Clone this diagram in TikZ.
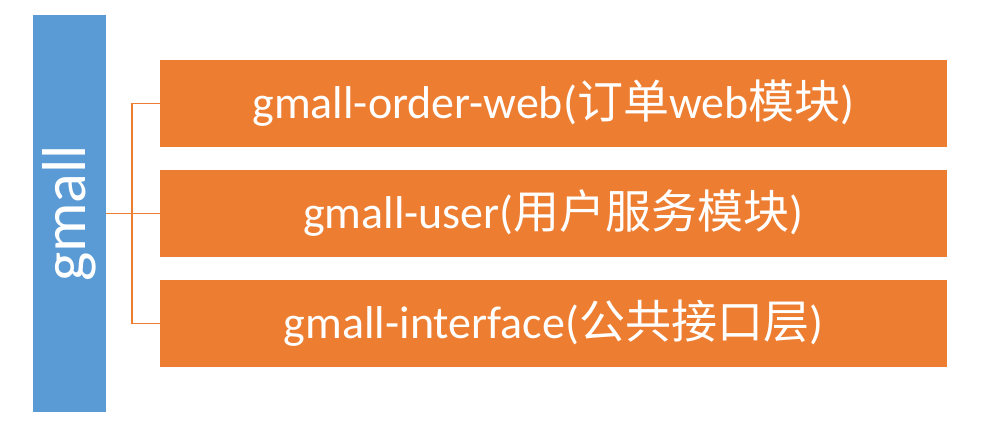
\documentclass[tikz,border=0pt]{standalone}
\usepackage{fontspec}
\setmainfont{Carlito}
\newfontfamily\cjk{Noto Sans CJK SC}
\definecolor{og}{HTML}{ED7D31}
\definecolor{bl}{HTML}{5B9BD5}
\begin{document}
\begin{tikzpicture}[x=1pt,y=1pt,
  obox/.style={fill=og,draw=none,minimum width=787pt,minimum height=87pt,inner sep=0pt,text=white,font=\fontsize{46}{52}\selectfont},
  conn/.style={draw=og,line width=1.2pt}]
\useasboundingbox (0,0) rectangle (1008,428);
\node[fill=bl,minimum width=73pt,minimum height=397pt,inner sep=0pt,text=white,font=\fontsize{62}{68}\selectfont] (g) at (69.5,214.5) {\rotatebox{90}{gmall}};
\node[obox] (a) at (553.5,324.5) {gmall-order-web({\cjk 订单}web{\cjk 模块})};
\node[obox] (b) at (553.5,214.5) {gmall-user({\cjk 用户服务模块})};
\node[obox] (c) at (553.5,104.5) {gmall-interface({\cjk 公共接口层})};
\coordinate (j) at (132,214.5);
\draw[conn] (g.east |- j) -- (j);
\draw[conn] (a.west) -- (a.west -| j) -- (c.west -| j) -- (c.west);
\draw[conn] (j) -- (b.west);
\end{tikzpicture}
\end{document}
